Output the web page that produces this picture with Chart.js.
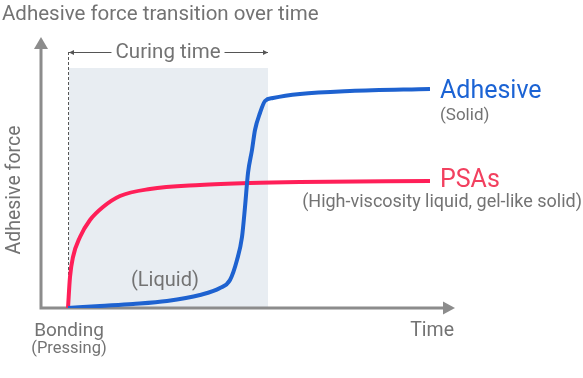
<!DOCTYPE html>
<html>
<head>
<meta charset="utf-8">
<script src="https://cdn.jsdelivr.net/npm/chart.js@4.4.0/dist/chart.umd.min.js"></script>
<style>
  html, body { margin: 0; padding: 0; background: #fff; }
  #wrap { position: relative; width: 583px; height: 378px; }
</style>
</head>
<body>
<div id="wrap"><canvas id="adhesionChart" width="583" height="378"></canvas></div>
<script>
// time / force in arbitrary units
const adhesiveTime  = [13.5, 29.5, 46, 63, 79.5, 89.5, 94.5, 98, 100.5, 102, 103.5, 105.5, 107, 109.5, 112, 116, 129.5, 154.5, 194.5];
const adhesiveForce = [0, 1, 2, 3.5, 6.5, 10, 14, 24, 35.5, 50.5, 67.5, 79, 89, 97.5, 103.5, 105, 107, 108.5, 109.5];

const psaTime  = [13.5, 14.5, 16, 19.5, 24.5, 31, 39.5, 54.5, 79.5, 104.5, 129.5, 194.5];
const psaForce = [0, 15.5, 25.5, 35.5, 44, 50.5, 56, 59.5, 61.5, 62.5, 63, 63.5];

const bondingTime = 13.5;
const curingEnd = 113.5;
const curingTop = 120;
const timeMax = 207;
const forceMax = 135.5;

const FONT = 'Roboto, "Noto Sans", sans-serif';
const GREY = '#737373';
const AXIS = '#8c8c8c';

function toPoints(xs, ys) {
  return xs.map((x, i) => ({ x: x, y: ys[i] }));
}

const diagramPlugin = {
  id: 'diagram',
  beforeDatasetsDraw(chart) {
    const { ctx, scales: { x, y } } = chart;
    const x0 = x.getPixelForValue(0);
    const y0 = y.getPixelForValue(0);
    const xb = x.getPixelForValue(bondingTime);
    const xe = x.getPixelForValue(curingEnd);
    const yt = y.getPixelForValue(curingTop);
    ctx.save();

    // curing period band
    ctx.fillStyle = '#e8edf2';
    ctx.fillRect(xb + 1, yt, xe - xb - 1, y0 - yt);

    // dashed marker at bonding
    const yArrow = y.getPixelForValue(128);
    ctx.strokeStyle = '#555';
    ctx.lineWidth = 1;
    ctx.setLineDash([3, 2]);
    ctx.beginPath();
    ctx.moveTo(xb + 0.5, yArrow);
    ctx.lineTo(xb + 0.5, y0);
    ctx.stroke();
    ctx.setLineDash([]);

    // curing time arrows
    ctx.font = '20.5px ' + FONT;
    ctx.fillStyle = GREY;
    ctx.textAlign = 'center';
    ctx.textBaseline = 'alphabetic';
    const mid = (xb + xe) / 2;
    ctx.fillText('Curing time', mid, yArrow + 6);
    const half = ctx.measureText('Curing time').width / 2 + 4;
    ctx.strokeStyle = '#555';
    ctx.lineWidth = 1;
    ctx.beginPath();
    ctx.moveTo(xb + 1, yArrow + 0.5);
    ctx.lineTo(mid - half, yArrow + 0.5);
    ctx.moveTo(mid + half, yArrow + 0.5);
    ctx.lineTo(xe, yArrow + 0.5);
    ctx.stroke();
    ctx.fillStyle = '#555';
    ctx.beginPath();
    ctx.moveTo(xb + 1, yArrow + 0.5);
    ctx.lineTo(xb + 6, yArrow - 2);
    ctx.lineTo(xb + 6, yArrow + 3);
    ctx.closePath();
    ctx.fill();
    ctx.beginPath();
    ctx.moveTo(xe, yArrow + 0.5);
    ctx.lineTo(xe - 5, yArrow - 2);
    ctx.lineTo(xe - 5, yArrow + 3);
    ctx.closePath();
    ctx.fill();

    // axes with arrow heads
    const xTop = y.getPixelForValue(forceMax);
    const xEnd = x.getPixelForValue(timeMax);
    ctx.strokeStyle = AXIS;
    ctx.fillStyle = AXIS;
    ctx.lineWidth = 3;
    ctx.beginPath();
    ctx.moveTo(x0, xTop + 10);
    ctx.lineTo(x0, y0);
    ctx.lineTo(xEnd - 10, y0);
    ctx.stroke();
    ctx.beginPath();
    ctx.moveTo(x0, xTop);
    ctx.lineTo(x0 - 7, xTop + 12);
    ctx.lineTo(x0 + 7, xTop + 12);
    ctx.closePath();
    ctx.fill();
    ctx.beginPath();
    ctx.moveTo(xEnd, y0);
    ctx.lineTo(xEnd - 12, y0 - 6.5);
    ctx.lineTo(xEnd - 12, y0 + 6.5);
    ctx.closePath();
    ctx.fill();
    ctx.restore();
  },
  afterDraw(chart) {
    const { ctx, scales: { x, y } } = chart;
    const x0 = x.getPixelForValue(0);
    const y0 = y.getPixelForValue(0);
    const xEnd = x.getPixelForValue(timeMax);
    ctx.save();
    ctx.textBaseline = 'alphabetic';

    ctx.fillStyle = GREY;
    ctx.textAlign = 'left';
    ctx.font = '20.5px ' + FONT;
    ctx.fillText('Adhesive force transition over time', 2, 20);

    // axis labels
    ctx.textAlign = 'center';
    ctx.font = '19px ' + FONT;
    ctx.fillText('Bonding', x.getPixelForValue(bondingTime) + 1, y0 + 28);
    ctx.font = '16.5px ' + FONT;
    ctx.fillText('(Pressing)', x.getPixelForValue(bondingTime) + 1, y0 + 45);
    ctx.font = '19.5px ' + FONT;
    ctx.textAlign = 'right';
    ctx.fillText('Time', xEnd - 1, y0 + 28);

    ctx.save();
    ctx.translate(x0 - 21, y.getPixelForValue(59));
    ctx.rotate(-Math.PI / 2);
    ctx.textAlign = 'center';
    ctx.font = '19.5px ' + FONT;
    ctx.fillText('Adhesive force', 0, 0);
    ctx.restore();

    ctx.textAlign = 'left';
    ctx.font = '20px ' + FONT;
    ctx.fillText('(Liquid)', x.getPixelForValue(45), y.getPixelForValue(11));

    // series labels
    const xl = x.getPixelForValue(199.5);
    ctx.font = '25px ' + FONT;
    ctx.fillStyle = '#1b63d4';
    ctx.fillText('Adhesive', xl, y.getPixelForValue(105));
    ctx.fillStyle = '#f2405f';
    ctx.fillText('PSAs', xl, y.getPixelForValue(60.5));

    ctx.fillStyle = GREY;
    ctx.font = '17px ' + FONT;
    ctx.fillText('(Solid)', xl, y.getPixelForValue(94));
    ctx.textAlign = 'right';
    ctx.font = '18px ' + FONT;
    ctx.fillText('(High-viscosity liquid, gel-like solid)', 582, y.getPixelForValue(50.5));
    ctx.restore();
  }
};

new Chart(document.getElementById('adhesionChart').getContext('2d'), {
  type: 'line',
  data: {
    datasets: [
      {
        label: 'Adhesive',
        data: toPoints(adhesiveTime, adhesiveForce),
        borderColor: '#1e62d0',
        borderWidth: 4,
        pointRadius: 0,
        cubicInterpolationMode: 'monotone',
        fill: false
      },
      {
        label: 'PSAs',
        data: toPoints(psaTime, psaForce),
        borderColor: '#ff1f58',
        borderWidth: 4,
        pointRadius: 0,
        cubicInterpolationMode: 'monotone',
        fill: false
      }
    ]
  },
  options: {
    responsive: false,
    animation: false,
    layout: { padding: { left: 41, right: 128, top: 37, bottom: 70 } },
    plugins: {
      legend: { display: false },
      tooltip: { enabled: false }
    },
    scales: {
      x: { type: 'linear', min: 0, max: timeMax, display: false },
      y: { type: 'linear', min: 0, max: forceMax, display: false }
    }
  },
  plugins: [diagramPlugin]
});
</script>
</body>
</html>
